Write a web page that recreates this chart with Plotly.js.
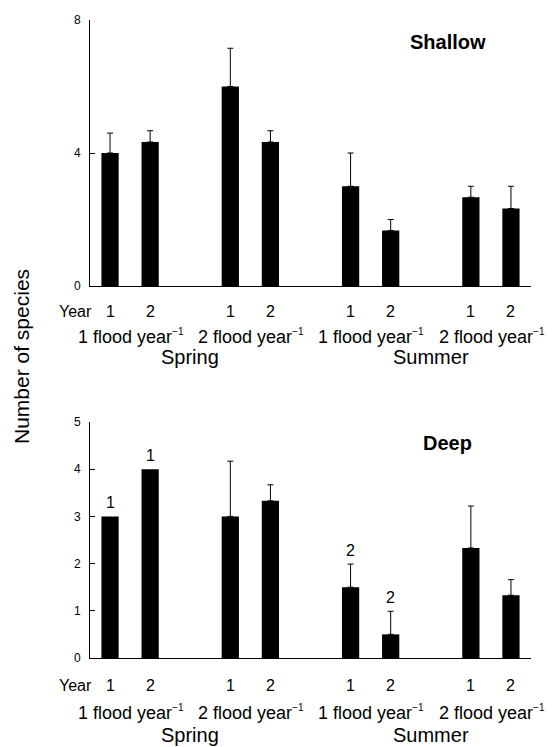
<!DOCTYPE html>
<html>
<head>
<meta charset="utf-8">
<script src="https://cdn.plot.ly/plotly-3.0.1.min.js"></script>
<style>html,body{margin:0;padding:0;background:#fff;} #chart{width:554px;height:747px;}</style>
</head>
<body>
<div id="chart"></div>
<script>
// ---- data ----
const seasons = ['Spring', 'Summer'];
const floodLabels = ['1 flood year', '2 flood year', '1 flood year', '2 flood year'];
const floodUnitSup = '−1';
const yearLabels = ['1', '2'];
const shallowMean = [4.0, 4.33, 6.0, 4.33, 3.0, 1.67, 2.67, 2.33];
const shallowErr  = [0.6, 0.34, 1.15, 0.34, 1.0, 0.33, 0.33, 0.67];
const deepMean = [3.0, 4.0, 3.0, 3.33, 1.5, 0.5, 2.33, 1.33];
const deepErr  = [NaN, NaN, 1.17, 0.34, 0.49, 0.49, 0.89, 0.33];   // NaN = no error bar drawn
const deepSig  = ['1', '1', '', '', '2', '2', '', ''];
const panelTitles = ['Shallow', 'Deep'];
const shallowTicks = [0, 4, 8];
const deepTicks = [0, 1, 2, 3, 4, 5];

// ---- layout helpers ----
const W = 554, H = 747;
const FONT = 'Liberation Sans, Arial, sans-serif';
const py = p => 1 - p / H;
const xPos = shallowMean.map((_, i) => Math.floor(i / 2) * 3 + (i % 2) + 0.5);
const groupCenters = floodLabels.map((_, g) => g * 3 + 1);
const seasonCenters = seasons.map((_, s) => s * 6 + 2.5);

function barTrace(mean, err, xa, ya) {
  return {
    type: 'bar', x: xPos, y: mean, xaxis: xa, yaxis: ya,
    width: 0.43,
    marker: {color: '#000', line: {width: 0}},
    error_y: {type: 'data', symmetric: false, array: err, arrayminus: err.map(e => (isNaN(e) ? NaN : 0)),
              color: '#000', thickness: 1, width: 3, visible: true},
    showlegend: false, hoverinfo: 'none'
  };
}

const traces = [
  barTrace(shallowMean, shallowErr, 'x', 'y'),
  barTrace(deepMean, deepErr, 'x2', 'y2')
];

const annotations = [];
function panelLabels(xref, yYear, yFlood, ySeason) {
  annotations.push({xref: 'paper', yref: 'paper', x: 75 / W, y: py(yYear), text: 'Year',
    showarrow: false, xanchor: 'center', yanchor: 'middle', font: {family: FONT, size: 16, color: '#000'}});
  xPos.forEach((x, i) => {
    annotations.push({xref: xref, yref: 'paper', x: x, y: py(yYear), text: yearLabels[i % 2],
      showarrow: false, xanchor: 'center', yanchor: 'middle', font: {family: FONT, size: 16, color: '#000'}});
  });
  groupCenters.forEach((x, g) => {
    annotations.push({xref: xref, yref: 'paper', x: x + 0.02, y: py(yFlood),
      text: floodLabels[g] + '<sup><span style="font-size:10px">' + floodUnitSup + '</span></sup>',
      showarrow: false, xanchor: 'center', yanchor: 'middle', font: {family: FONT, size: 18, color: '#000'}});
  });
  seasonCenters.forEach((x, s) => {
    annotations.push({xref: xref, yref: 'paper', x: x, y: py(ySeason), text: seasons[s],
      showarrow: false, xanchor: 'center', yanchor: 'middle', font: {family: FONT, size: 20, color: '#000'}});
  });
}
panelLabels('x', 311, 336, 357);
panelLabels('x2', 685, 712, 735);

annotations.push({xref: 'paper', yref: 'paper', x: 448 / W, y: py(42), text: '<b>' + panelTitles[0] + '</b>',
  showarrow: false, xanchor: 'center', yanchor: 'middle', font: {family: FONT, size: 20, color: '#000'}});
annotations.push({xref: 'paper', yref: 'paper', x: 447 / W, y: py(443), text: '<b>' + panelTitles[1] + '</b>',
  showarrow: false, xanchor: 'center', yanchor: 'middle', font: {family: FONT, size: 20, color: '#000'}});
annotations.push({xref: 'paper', yref: 'paper', x: 22 / W, y: py(357), text: 'Number of species', textangle: -90,
  showarrow: false, xanchor: 'center', yanchor: 'middle', font: {family: FONT, size: 21, color: '#000'}});

deepSig.forEach((t, i) => {
  if (!t) return;
  const top = deepMean[i] + (isNaN(deepErr[i]) ? 0 : deepErr[i]);
  annotations.push({xref: 'x2', yref: 'y2', x: xPos[i], y: top, text: t,
    showarrow: false, xanchor: 'center', yanchor: 'bottom', yshift: 3, font: {family: FONT, size: 16, color: '#000'}});
});

const xDomain = [90 / W, 531 / W];
function yAxis(domain, range, ticks) {
  return {domain: domain, range: range, tickvals: ticks, ticks: 'inside', ticklen: 5, tickcolor: '#000',
    showline: true, linecolor: '#000', linewidth: 1, showgrid: false, zeroline: false,
    tickfont: {family: FONT, size: 12, color: '#000'}, ticklabelstandoff: 6, fixedrange: true};
}
function xAxis(anchor) {
  return {domain: xDomain, range: [0, 11], anchor: anchor, showline: true, linecolor: '#000', linewidth: 1,
    showticklabels: false, ticks: '', showgrid: false, zeroline: false, fixedrange: true};
}

const layout = {
  width: W, height: H,
  margin: {l: 0, r: 0, t: 0, b: 0},
  paper_bgcolor: '#fff', plot_bgcolor: '#fff',
  xaxis: xAxis('y'),
  yaxis: yAxis([py(286), py(20)], [0, 8], shallowTicks),
  xaxis2: xAxis('y2'),
  yaxis2: yAxis([py(658), py(422)], [0, 5], deepTicks),
  annotations: annotations,
  showlegend: false
};

Plotly.newPlot('chart', traces, layout, {displayModeBar: false, staticPlot: true});
</script>
</body>
</html>
